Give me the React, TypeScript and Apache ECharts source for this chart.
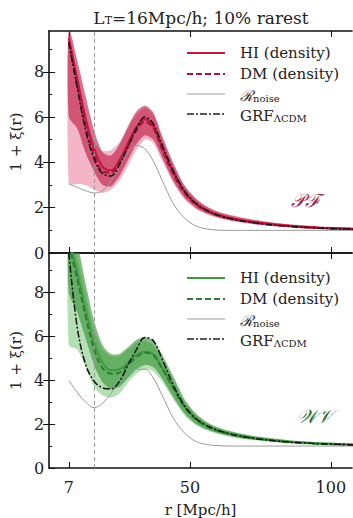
import React, { useEffect, useRef } from 'react';
import * as echarts from 'echarts';

// separation r [Mpc/h]
const R = [7, 10, 13, 16, 19, 22, 25, 28, 31, 34, 37, 40, 44, 48, 52, 56, 60, 65, 70, 75, 80, 85, 90, 95, 100, 105, 108];

// ---- PF panel ----
const PF_HI = [9.5, 7.7, 5.9, 4.6, 3.8, 3.65, 4.1, 4.85, 5.55, 5.9, 5.6, 4.7, 3.6, 2.72, 2.2, 1.88, 1.68, 1.52, 1.41, 1.33, 1.26, 1.2, 1.16, 1.12, 1.1, 1.08, 1.06];
const PF_HI_LO = [6.0, 5.5, 4.4, 3.6, 3.0, 2.95, 3.4, 4.1, 4.8, 5.2, 5.0, 4.25, 3.2, 2.45, 2.0, 1.74, 1.57, 1.43, 1.33, 1.25, 1.19, 1.14, 1.1, 1.07, 1.04, 1.02, 1.01];
const PF_HI_UP = [9.9, 8.5, 6.9, 5.4, 4.45, 4.3, 4.8, 5.6, 6.25, 6.5, 6.2, 5.2, 4.0, 3.0, 2.42, 2.05, 1.82, 1.65, 1.52, 1.42, 1.34, 1.27, 1.22, 1.18, 1.15, 1.13, 1.12];
const PF_DM = [9.3, 7.4, 5.6, 4.35, 3.6, 3.55, 4.0, 4.7, 5.4, 5.8, 5.5, 4.6, 3.5, 2.65, 2.15, 1.85, 1.65, 1.5, 1.39, 1.31, 1.24, 1.19, 1.14, 1.11, 1.08, 1.06, 1.05];
const PF_DM_LO = [3.05, 3.05, 3.0, 2.8, 2.65, 2.8, 3.2, 3.85, 4.55, 5.0, 4.85, 4.1, 3.1, 2.38, 1.95, 1.7, 1.54, 1.4, 1.3, 1.23, 1.17, 1.12, 1.08, 1.05, 1.02, 1.0, 0.99];
const PF_DM_UP = [9.6, 7.9, 6.2, 4.9, 4.5, 4.55, 4.9, 5.5, 6.1, 6.4, 6.1, 5.1, 3.9, 2.95, 2.38, 2.02, 1.8, 1.62, 1.5, 1.4, 1.32, 1.26, 1.2, 1.16, 1.13, 1.11, 1.1];
const PF_GRF = [9.3, 7.3, 5.4, 4.15, 3.5, 3.4, 3.9, 4.7, 5.5, 6.0, 5.7, 4.8, 3.65, 2.75, 2.2, 1.88, 1.67, 1.5, 1.38, 1.3, 1.23, 1.18, 1.14, 1.1, 1.08, 1.06, 1.05];
const PF_NOISE = [3.05, 2.9, 2.75, 2.65, 2.75, 3.2, 3.85, 4.45, 4.75, 4.6, 4.05, 3.25, 2.2, 1.55, 1.2, 1.06, 1.01, 1.0, 1.0, 1.0, 1.0, 1.0, 1.0, 1.0, 1.0, 1.0, 1.0];

// ---- WV panel ----
const WV_HI = [10.4, 8.9, 7.2, 5.7, 4.8, 4.45, 4.5, 4.8, 5.15, 5.3, 5.2, 4.6, 3.7, 2.82, 2.26, 1.92, 1.71, 1.54, 1.42, 1.33, 1.26, 1.2, 1.16, 1.12, 1.1, 1.08, 1.06];
const WV_HI_LO = [8.0, 7.1, 5.9, 4.7, 3.9, 3.6, 3.7, 4.1, 4.5, 4.7, 4.6, 4.1, 3.25, 2.5, 2.02, 1.75, 1.58, 1.43, 1.33, 1.25, 1.19, 1.14, 1.1, 1.07, 1.04, 1.02, 1.01];
const WV_HI_UP = [11.0, 10.2, 8.4, 6.7, 5.6, 5.2, 5.2, 5.5, 5.85, 5.95, 5.8, 5.2, 4.2, 3.15, 2.5, 2.1, 1.85, 1.66, 1.52, 1.42, 1.34, 1.27, 1.22, 1.18, 1.15, 1.13, 1.12];
const WV_DM = [10.2, 8.6, 6.9, 5.4, 4.55, 4.3, 4.35, 4.7, 5.05, 5.25, 5.15, 4.55, 3.65, 2.78, 2.22, 1.9, 1.69, 1.52, 1.4, 1.32, 1.25, 1.19, 1.15, 1.11, 1.09, 1.07, 1.05];
const WV_DM_LO = [5.6, 5.4, 4.6, 3.7, 3.3, 3.2, 3.4, 3.9, 4.3, 4.5, 4.4, 3.95, 3.15, 2.42, 1.97, 1.72, 1.55, 1.4, 1.3, 1.23, 1.17, 1.12, 1.08, 1.05, 1.02, 1.0, 0.99];
const WV_DM_UP = [10.8, 9.6, 7.9, 6.3, 5.4, 5.1, 5.1, 5.4, 5.7, 5.8, 5.6, 5.0, 4.05, 3.05, 2.45, 2.06, 1.82, 1.63, 1.5, 1.4, 1.32, 1.26, 1.2, 1.16, 1.13, 1.11, 1.1];
const WV_GRF = [9.8, 6.4, 4.7, 3.95, 3.65, 3.6, 3.95, 4.7, 5.4, 5.95, 5.8, 5.0, 3.8, 2.85, 2.27, 1.93, 1.71, 1.53, 1.4, 1.31, 1.24, 1.18, 1.14, 1.11, 1.09, 1.07, 1.05];
const WV_NOISE = [4.0, 3.45, 3.0, 2.75, 2.95, 3.4, 3.9, 4.3, 4.5, 4.5, 4.1, 3.35, 2.3, 1.6, 1.22, 1.07, 1.02, 1.0, 1.0, 1.0, 1.0, 1.0, 1.0, 1.0, 1.0, 1.0, 1.0];

const X_TICKS = [7, 50, 100];
const Y_TICKS = [0, 2, 4, 6, 8];
const Y_MINOR = [1, 3, 5, 7, 9];
const L_T = 16;

const TITLE = '=16Mpc/h; 10% rarest';
const LEGEND = ['HI (density)', 'DM (density)', 'noise', 'ΛCDM'];

const SERIF = '"DejaVu Serif", "Liberation Serif", serif';

type Panel = {
  hi: number[]; hiLo: number[]; hiUp: number[];
  dm: number[]; dmLo: number[]; dmUp: number[];
  grf: number[]; noise: number[];
  line: string; dmLine: string; band1: string; band2: string; labelColor: string; label: string;
};

const PANELS: Panel[] = [
  {
    hi: PF_HI, hiLo: PF_HI_LO, hiUp: PF_HI_UP, dm: PF_DM, dmLo: PF_DM_LO, dmUp: PF_DM_UP,
    grf: PF_GRF, noise: PF_NOISE,
    line: '#c4163f', dmLine: '#a8123c', band1: '#bd1640', band2: '#e65a84', labelColor: '#9a1d48', label: '𝒫ℱ',
  },
  {
    hi: WV_HI, hiLo: WV_HI_LO, hiUp: WV_HI_UP, dm: WV_DM, dmLo: WV_DM_LO, dmUp: WV_DM_UP,
    grf: WV_GRF, noise: WV_NOISE,
    line: '#3f9a3f', dmLine: '#2f7d35', band1: '#2f8f2f', band2: '#5cb85c', labelColor: '#2f6b2f', label: '𝒲𝒱',
  },
];

const zip = (ys: number[]) => R.map((r, i) => [r, ys[i]]);

function bandSeries(g: number, lo: number[], up: number[], color: string, opacity: number, z: number) {
  return {
    type: 'custom',
    xAxisIndex: 2 * g,
    yAxisIndex: 3 * g,
    clip: true,
    silent: true,
    z,
    data: [[R[0], lo[0]]],
    renderItem: (_p: any, api: any) => {
      const pts: number[][] = [];
      for (let i = 0; i < R.length; i++) pts.push(api.coord([R[i], up[i]]));
      for (let i = R.length - 1; i >= 0; i--) pts.push(api.coord([R[i], lo[i]]));
      return {
        type: 'polygon',
        shape: { points: pts, smooth: 0.25 },
        style: { fill: color, opacity },
      };
    },
  };
}

function lineSeries(g: number, ys: number[], color: string, width: number, type: any, z: number, extra: any = {}) {
  return {
    type: 'line',
    xAxisIndex: 2 * g,
    yAxisIndex: 3 * g,
    data: zip(ys),
    smooth: 0.35,
    symbol: 'none',
    clip: true,
    silent: true,
    z,
    lineStyle: { color, width, type },
    ...extra,
  };
}

export default function App() {
  const ref = useRef<HTMLDivElement>(null);

  useEffect(() => {
    document.body.style.margin = '0';
    if (!ref.current) return;
    const chart = echarts.init(ref.current, undefined, { renderer: 'svg' });

    const grids = [
      { left: 48, top: 31, width: 304, height: 222 },
      { left: 48, top: 253, width: 304, height: 221 },
    ];

    const xAxes: any[] = [];
    const yAxes: any[] = [];
    const series: any[] = [];
    const graphics: any[] = [];

    PANELS.forEach((p, g) => {
      const axisLineStyle = { color: '#111', width: 1.6 };
      xAxes.push({
        gridIndex: g, type: 'value', min: 0, max: 107.5, position: 'bottom',
        axisLine: { show: true, onZero: false, lineStyle: axisLineStyle },
        axisTick: { show: true, inside: true, length: 6, customValues: X_TICKS, lineStyle: { color: '#111', width: 1 } },
        axisLabel: { show: g === 1, customValues: X_TICKS, margin: 11, fontSize: 16, fontFamily: SERIF, color: '#222' },
        splitLine: { show: false },
        name: g === 1 ? 'r [Mpc/h]' : '',
        nameLocation: 'middle', nameGap: 34,
        nameTextStyle: { fontSize: 15, fontFamily: SERIF, color: '#222' },
      });
      xAxes.push({
        gridIndex: g, type: 'value', min: 0, max: 107.5, position: 'top',
        axisLine: { show: true, onZero: false, lineStyle: axisLineStyle },
        axisTick: { show: true, inside: true, length: 6, customValues: X_TICKS, lineStyle: { color: '#111', width: 1 } },
        axisLabel: { show: false },
        splitLine: { show: false },
      });
      yAxes.push({
        gridIndex: g, type: 'value', min: 0, max: 9.8, position: 'left',
        axisLine: { show: true, onZero: false, lineStyle: axisLineStyle },
        axisTick: { show: true, inside: true, length: 6, customValues: Y_TICKS, lineStyle: { color: '#111', width: 1 } },
        axisLabel: { customValues: Y_TICKS, margin: 5, fontSize: 16, fontFamily: SERIF, color: '#222' },
        splitLine: { show: false },
        name: '1 + ξ(r)', nameLocation: 'middle', nameGap: 22, nameRotate: 90,
        nameTextStyle: { fontSize: 15, fontFamily: SERIF, color: '#222' },
      });
      yAxes.push({
        gridIndex: g, type: 'value', min: 0, max: 9.8, position: 'left',
        axisLine: { show: false },
        axisTick: { show: true, inside: true, length: 3, customValues: Y_MINOR, lineStyle: { color: '#111', width: 1 } },
        axisLabel: { show: false },
        splitLine: { show: false },
      });
      yAxes.push({
        gridIndex: g, type: 'value', min: 0, max: 9.8, position: 'right',
        axisLine: { show: false },
        axisTick: { show: true, inside: true, length: 6, customValues: [2, 4, 6, 8], lineStyle: { color: '#111', width: 1 } },
        axisLabel: { show: false },
        splitLine: { show: false },
      });

      series.push(bandSeries(g, p.dmLo, p.dmUp, p.band2, 0.45, 1));
      series.push(bandSeries(g, p.hiLo, p.hiUp, p.band1, 0.6, 2));
      series.push(lineSeries(g, p.noise, '#9a9a9a', 1, 'solid', 3, {
        markLine: {
          silent: true, symbol: ['none', 'none'], label: { show: false },
          lineStyle: { color: '#9a9a9a', type: [4, 3], width: 1 },
          data: [{ xAxis: L_T }],
        },
      }));
      series.push(lineSeries(g, p.hi, p.line, 2, 'solid', 4));
      series.push(lineSeries(g, p.dm, p.dmLine, 2, [6, 3], 5));
      series.push(lineSeries(g, p.grf, '#111', 1.5, [7, 2, 2, 2], 6));

      const oy = g === 0 ? 0 : 225;
      const ly = [53, 74, 94, 114].map((v) => v + oy);
      const lx1 = 187, lx2 = 225, tx = 240;
      graphics.push(
        { type: 'line', shape: { x1: lx1, y1: ly[0], x2: lx2, y2: ly[0] }, style: { stroke: p.line, lineWidth: 2 } },
        { type: 'line', shape: { x1: lx1, y1: ly[1], x2: lx2, y2: ly[1] }, style: { stroke: p.dmLine, lineWidth: 2, lineDash: [6, 3] } },
        { type: 'line', shape: { x1: lx1, y1: ly[2], x2: lx2, y2: ly[2] }, style: { stroke: '#bdbdbd', lineWidth: 1.5 } },
        { type: 'line', shape: { x1: lx1, y1: ly[3], x2: lx2, y2: ly[3] }, style: { stroke: '#222', lineWidth: 1.5, lineDash: [7, 2, 2, 2] } },
        { type: 'text', x: tx, y: ly[0], style: { text: LEGEND[0], font: `15px ${SERIF}`, fill: '#222', verticalAlign: 'middle' } },
        { type: 'text', x: tx, y: ly[1], style: { text: LEGEND[1], font: `15px ${SERIF}`, fill: '#222', verticalAlign: 'middle' } },
        {
          type: 'text', x: tx, y: ly[2] - 9,
          style: {
            text: '{a|ℛ}{s|' + LEGEND[2] + '}', fill: '#222', verticalAlign: 'top',
            rich: {
              a: { fontSize: 15, fontFamily: SERIF, fontStyle: 'italic', lineHeight: 18, verticalAlign: 'bottom' },
              s: { fontSize: 10, fontFamily: SERIF, lineHeight: 18, verticalAlign: 'bottom', padding: [6, 0, 0, 0] },
            },
          },
        },
        {
          type: 'text', x: tx, y: ly[3] - 9,
          style: {
            text: '{a|GRF}{s|' + LEGEND[3] + '}', fill: '#222', verticalAlign: 'top',
            rich: {
              a: { fontSize: 15, fontFamily: SERIF, lineHeight: 18, verticalAlign: 'bottom' },
              s: { fontSize: 10, fontFamily: SERIF, lineHeight: 18, verticalAlign: 'bottom', padding: [6, 0, 0, 0] },
            },
          },
        },
        {
          type: 'text', x: g === 0 ? 305 : 315, y: g === 0 ? 200 : 416,
          style: { text: p.label, font: `italic 19px ${SERIF}`, fill: p.labelColor, align: 'center', verticalAlign: 'middle' },
        },
      );
    });

    graphics.push({
      type: 'text', x: 201, y: 6,
      style: {
        text: '{a|L}{s|T}{a|' + TITLE + '}', align: 'center', verticalAlign: 'top', fill: '#222',
        rich: {
          a: { fontSize: 17, fontFamily: SERIF, lineHeight: 20, verticalAlign: 'bottom' },
          s: { fontSize: 11, fontFamily: SERIF, lineHeight: 20, verticalAlign: 'bottom', padding: [6, 0, 0, 0] },
        },
      },
    });

    chart.setOption({
      animation: false,
      backgroundColor: '#fff',
      grid: grids,
      xAxis: xAxes,
      yAxis: yAxes,
      series,
      graphic: graphics,
    });

    return () => chart.dispose();
  }, []);

  return <div ref={ref} style={{ width: 353, height: 518 }} />;
}
